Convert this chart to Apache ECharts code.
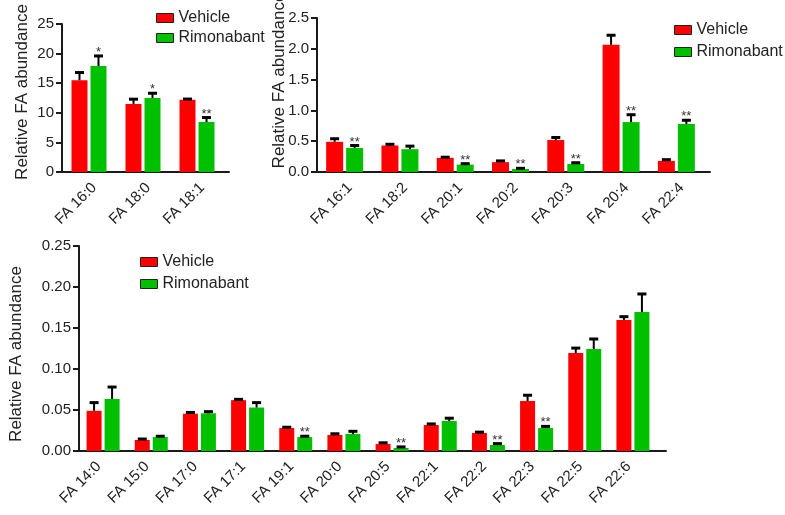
<!DOCTYPE html>
<html>
<head>
<meta charset="utf-8">
<script src="https://cdn.jsdelivr.net/npm/echarts@6/dist/echarts.min.js"></script>
<style>html,body{margin:0;padding:0;background:#fff}#c{width:785px;height:515px}</style>
</head>
<body>
<div id="c"></div>
<script>
// ---------- DATA ----------
const tlCats = ['FA 16:0', 'FA 18:0', 'FA 18:1'];
const tlVehicle = [15.5, 11.5, 12.2];
const tlVehicleErr = [1.3, 0.8, 0.12];
const tlRimo = [17.9, 12.5, 8.45];
const tlRimoErr = [1.7, 0.8, 0.75];
const tlStars = ['*', '*', '**'];

const trCats = ['FA 16:1', 'FA 18:2', 'FA 20:1', 'FA 20:2', 'FA 20:3', 'FA 20:4', 'FA 22:4'];
const trVehicle = [0.49, 0.43, 0.23, 0.16, 0.52, 2.065, 0.18];
const trVehicleErr = [0.05, 0.02, 0.01, 0.02, 0.04, 0.155, 0.02];
const trRimo = [0.39, 0.37, 0.12, 0.05, 0.13, 0.81, 0.78];
const trRimoErr = [0.04, 0.05, 0.015, 0.01, 0.02, 0.12, 0.06];
const trStars = ['**', '', '**', '**', '**', '**', '**'];

const bCats = ['FA 14:0', 'FA 15:0', 'FA 17:0', 'FA 17:1', 'FA 19:1', 'FA 20:0', 'FA 20:5', 'FA 22:1', 'FA 22:2', 'FA 22:3', 'FA 22:5', 'FA 22:6'];
const bVehicle = [0.049, 0.0134, 0.0455, 0.062, 0.028, 0.0195, 0.0085, 0.0317, 0.022, 0.061, 0.1195, 0.1598];
const bVehicleErr = [0.010, 0.0012, 0.0015, 0.001, 0.001, 0.0015, 0.0015, 0.0013, 0.001, 0.007, 0.006, 0.004];
const bRimo = [0.0634, 0.017, 0.046, 0.053, 0.017, 0.0207, 0.0037, 0.0366, 0.0073, 0.028, 0.1244, 0.1695];
const bRimoErr = [0.0146, 0.001, 0.002, 0.006, 0.001, 0.0033, 0.0013, 0.0034, 0.0017, 0.002, 0.0122, 0.022];
const bStars = ['', '', '', '', '**', '', '**', '', '**', '**', '', ''];

const seriesNames = ['Vehicle', 'Rimonabant'];
const yTitle = 'Relative FA abundance';

// ---------- STYLE ----------
const RED = '#ff0000', GREEN = '#00c000', INK = '#1a1a1a';
const FONT = 'Liberation Sans, Arial, sans-serif';

const panels = [
  { cats: tlCats, veh: tlVehicle, vehErr: tlVehicleErr, rim: tlRimo, rimErr: tlRimoErr, stars: tlStars,
    grid: { left: 62, top: 24, width: 162, height: 148 }, axisExtra: 5, max: 25, interval: 5, dec: 0,
    bw: 16, gap: 3, nameGap: 31, namePad: [0, 0, 0, 12], labelPad: [0, 0, 0, 0], labelMargin: 8, labelVA: 'top',
    legend: { left: 151, top: 5, itemGap: 4 } },
  { cats: trCats, veh: trVehicle, vehErr: trVehicleErr, rim: trRimo, rimErr: trRimoErr, stars: trStars,
    grid: { left: 317, top: 18, width: 387, height: 154 }, axisExtra: 6, max: 2.5, interval: 0.5, dec: 1,
    bw: 17, gap: 3, nameGap: 29, namePad: [0, 0, 0, 29], labelPad: [0, 0, 0, 0], labelMargin: 8, labelVA: 'top',
    legend: { left: 669, top: 17, itemGap: 6 } },
  { cats: bCats, veh: bVehicle, vehErr: bVehicleErr, rim: bRimo, rimErr: bRimoErr, stars: bStars,
    grid: { left: 79, top: 246, width: 578, height: 205 }, axisExtra: 9, max: 0.25, interval: 0.05, dec: 2,
    bw: 15, gap: 3, nameGap: 54, namePad: [0, 11, 0, 0], labelPad: [0, 6, 0, 0], labelMargin: 9, labelVA: 'middle',
    legend: { left: 135, top: 249, itemGap: 6 } }
];

const grid = [], xAxis = [], yAxis = [], series = [], legend = [];

function errRenderer(p, side) {
  return function (params, api) {
    const idx = api.value(0), mean = api.value(1), err = api.value(2);
    const off = side * (p.bw + p.gap) / 2;
    const base = api.coord([idx, mean]);
    const top = api.coord([idx, mean + err]);
    const cx = base[0] + off;
    const children = [
      { type: 'line', shape: { x1: cx, y1: base[1], x2: cx, y2: top[1] }, style: { stroke: '#000', lineWidth: 2 } },
      { type: 'rect', shape: { x: cx - 4.5, y: top[1] - 1.5, width: 9, height: 3 }, style: { fill: '#000' } }
    ];
    if (side > 0) {
      const s = p.stars[params.dataIndex];
      if (s) {
        children.push({ type: 'text', x: cx, y: top[1] + 3,
          style: { text: s, fill: '#333', font: '13px ' + FONT, textAlign: 'center', textVerticalAlign: 'bottom' } });
      }
    }
    return { type: 'group', children: children };
  };
}

panels.forEach(function (p, i) {
  grid.push(Object.assign({ containLabel: false, outerBoundsMode: 'none' }, p.grid));
  xAxis.push({
    type: 'category', gridIndex: i, data: p.cats, boundaryGap: true,
    axisLine: { lineStyle: { color: INK, width: 2 } },
    axisTick: { show: false },
    axisLabel: { rotate: 45, fontSize: 15, color: '#222', fontFamily: FONT, margin: p.labelMargin,
      padding: p.labelPad, verticalAlign: p.labelVA, interval: 0 },
    splitLine: { show: false }
  });
  yAxis.push({
    type: 'value', gridIndex: i, min: 0, max: p.max, interval: p.interval,
    name: yTitle, nameLocation: 'middle', nameGap: p.nameGap, nameMoveOverlap: false,
    nameTextStyle: { fontSize: 17, color: '#222', fontFamily: FONT, padding: p.namePad },
    axisLine: { show: true, lineStyle: { color: INK, width: 2 } },
    axisTick: { show: true, length: 6, lineStyle: { color: INK, width: 2 } },
    axisLabel: { fontSize: 15, color: '#222', fontFamily: FONT, margin: 8,
      formatter: function (v) { return v.toFixed(p.dec); } },
    splitLine: { show: false }
  });
  const barGap = (p.gap / p.bw * 100).toFixed(1) + '%';
  series.push({
    name: seriesNames[0], type: 'bar', xAxisIndex: i, yAxisIndex: i, data: p.veh,
    barWidth: p.bw, barGap: barGap, itemStyle: { color: RED }, emphasis: { disabled: true }
  });
  series.push({
    name: seriesNames[1], type: 'bar', xAxisIndex: i, yAxisIndex: i, data: p.rim,
    barWidth: p.bw, barGap: barGap, itemStyle: { color: GREEN }, emphasis: { disabled: true }
  });
  series.push({
    type: 'custom', name: 'errV' + i, xAxisIndex: i, yAxisIndex: i, z: 5,
    data: p.veh.map(function (v, k) { return [k, v, p.vehErr[k]]; }),
    encode: { x: 0, y: 1 }, renderItem: errRenderer(p, -1), silent: true
  });
  series.push({
    type: 'custom', name: 'errR' + i, xAxisIndex: i, yAxisIndex: i, z: 5,
    data: p.rim.map(function (v, k) { return [k, v, p.rimErr[k]]; }),
    encode: { x: 0, y: 1 }, renderItem: errRenderer(p, 1), silent: true
  });
  legend.push({
    data: seriesNames, orient: 'vertical', left: p.legend.left, top: p.legend.top,
    itemGap: p.legend.itemGap, itemWidth: 17, itemHeight: 9, icon: 'rect',
    itemStyle: { borderColor: '#222', borderWidth: 1 },
    textStyle: { fontSize: 16, color: '#222', fontFamily: FONT }, selectedMode: false
  });
});

// extra grids: baseline axis lines that run a little past the last category, as in the original
panels.forEach(function (p, i) {
  const gi = grid.length;
  grid.push({ containLabel: false, outerBoundsMode: 'none', left: p.grid.left, top: p.grid.top,
    width: p.grid.width + p.axisExtra, height: p.grid.height });
  xAxis.push({ type: 'value', gridIndex: gi, min: 0, max: 1, axisLine: { show: true, onZero: false, lineStyle: { color: INK, width: 2 } },
    axisTick: { show: false }, axisLabel: { show: false }, splitLine: { show: false } });
  yAxis.push({ type: 'value', gridIndex: gi, min: 0, max: 1, show: false });
});

const chart = echarts.init(document.getElementById('c'), null, { renderer: 'canvas' });
chart.setOption({
  animation: false, backgroundColor: '#fff',
  textStyle: { fontFamily: FONT },
  grid: grid, xAxis: xAxis, yAxis: yAxis, series: series, legend: legend
});
</script>
</body>
</html>
